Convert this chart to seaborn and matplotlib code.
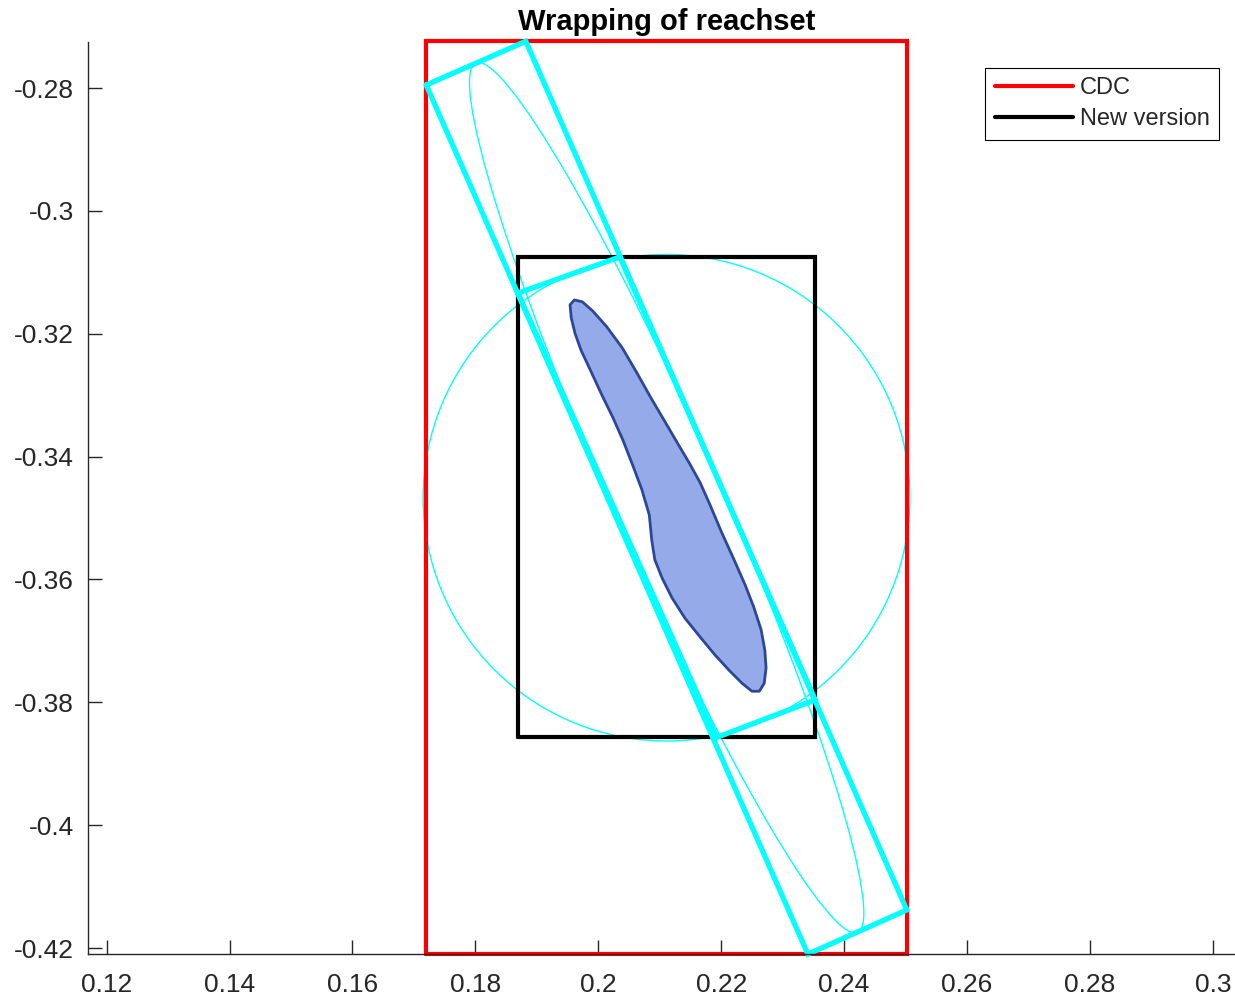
import numpy as np
import pandas as pd
import seaborn as sns
import matplotlib
matplotlib.use("Agg")
import matplotlib.pyplot as plt
from matplotlib.patches import Ellipse, Circle, Polygon

sns.set_style("white")
plt.rcParams['font.family'] = ['Liberation Sans', 'DejaVu Sans']

# axis-aligned boxes: xmin, xmax, ymin, ymax
cdc_box = [0.1720, 0.2502, -0.4210, -0.2724]
new_box = [0.1869, 0.2353, -0.3857, -0.3075]

# oriented box around the reach set, corners in order
big_rect_x = [0.1720, 0.1882, 0.2502, 0.2341]
big_rect_y = [-0.2795, -0.2724, -0.4138, -0.4210]
# smaller oriented box
small_rect_x = [0.1869, 0.2035, 0.2353, 0.2193]
small_rect_y = [-0.3134, -0.3075, -0.3796, -0.3857]

# bounding circle
circle_center = (0.2111, -0.3467)
circle_radius = 0.0396

# reach set outline
reach_x = [0.1954, 0.1956, 0.1962, 0.1972, 0.1987, 0.2006, 0.2024, 0.2040,
           0.2056, 0.2071, 0.2083, 0.2087, 0.2092, 0.2104, 0.2120, 0.2141,
           0.2166, 0.2190, 0.2214, 0.2234, 0.2250, 0.2262, 0.2270, 0.2273,
           0.2271, 0.2265, 0.2253, 0.2239, 0.2221, 0.2201, 0.2182, 0.2166,
           0.2149, 0.2130, 0.2109, 0.2086, 0.2063, 0.2039, 0.2014, 0.1991,
           0.1974, 0.1961]
reach_y = [-0.3153, -0.3174, -0.3199, -0.3227, -0.3259, -0.3300, -0.3337, -0.3373,
           -0.3414, -0.3454, -0.3495, -0.3536, -0.3568, -0.3598, -0.3630, -0.3663,
           -0.3694, -0.3723, -0.3749, -0.3769, -0.3782, -0.3782, -0.3769, -0.3744,
           -0.3715, -0.3682, -0.3645, -0.3609, -0.3568, -0.3524, -0.3479, -0.3443,
           -0.3412, -0.3380, -0.3344, -0.3305, -0.3264, -0.3223, -0.3189, -0.3163,
           -0.3148, -0.3145]

x_ticks = [0.12, 0.14, 0.16, 0.18, 0.20, 0.22, 0.24, 0.26, 0.28, 0.30]
x_labels = ['0.12', '0.14', '0.16', '0.18', '0.2', '0.22', '0.24', '0.26', '0.28', '0.3']
y_ticks = [-0.28, -0.30, -0.32, -0.34, -0.36, -0.38, -0.40, -0.42]
y_labels = ['-0.28', '-0.3', '-0.32', '-0.34', '-0.36', '-0.38', '-0.4', '-0.42']


def box_df(b):
    return pd.DataFrame({'x': [b[0], b[1], b[1], b[0], b[0]],
                         'y': [b[2], b[2], b[3], b[3], b[2]]})


def closed_df(xs, ys):
    return pd.DataFrame({'x': list(xs) + [xs[0]], 'y': list(ys) + [ys[0]]})


def inscribed_ellipse(xs, ys):
    p = np.column_stack([xs, ys])
    c = p.mean(axis=0)
    a = p[1] - p[0]
    b = p[3] - p[0]
    ang = np.degrees(np.arctan2(b[1], b[0]))
    return Ellipse(c, np.hypot(*b), np.hypot(*a), angle=ang, fill=False,
                   ec='cyan', lw=1, clip_on=False)


fig = plt.figure(figsize=(12.35, 9.97), dpi=100)
ax = fig.add_axes([88 / 1235, 43 / 997, (1245 - 88) / 1235, (954 - 42) / 997])

sns.lineplot(data=box_df(cdc_box), x='x', y='y', sort=False, estimator=None,
             color='red', lw=3, label='CDC', ax=ax)
sns.lineplot(data=box_df(new_box), x='x', y='y', sort=False, estimator=None,
             color='black', lw=3, label='New version', ax=ax)

ax.add_patch(Circle(circle_center, circle_radius, fill=False, ec='cyan', lw=1))
ax.add_patch(inscribed_ellipse(big_rect_x, big_rect_y))

for xs, ys in [(big_rect_x, big_rect_y), (small_rect_x, small_rect_y)]:
    sns.lineplot(data=closed_df(xs, ys), x='x', y='y', sort=False, estimator=None,
                 color='cyan', lw=3.8, legend=False, ax=ax)

for ln in ax.lines:
    ln.set_clip_on(False)
    ln.set_solid_joinstyle('miter')

ax.add_patch(Polygon(np.column_stack([reach_x, reach_y]), closed=True,
                     fc='#95aae8', ec='#2b4898', lw=2, joinstyle='round', zorder=5))

ax.set_xlim(0.11696, 0.30524)
ax.set_ylim(-0.42097, -0.27251)
ax.set_xticks(x_ticks)
ax.set_xticklabels(x_labels)
ax.set_yticks(y_ticks)
ax.set_yticklabels(y_labels)
ax.tick_params(bottom=True, left=True, direction='in', length=10, width=1,
               labelsize=19, colors='#262626')
ax.tick_params(axis='x', pad=14)
ax.tick_params(axis='y', pad=10)
ax.set_xlabel('')
ax.set_ylabel('')
for s in ['top', 'right']:
    ax.spines[s].set_visible(False)
for s in ['left', 'bottom']:
    ax.spines[s].set_color('#262626')
    ax.spines[s].set_linewidth(1)

ax.set_title('Wrapping of reachset', fontsize=21, fontweight='bold', pad=9,
             color='black')

leg = ax.legend(loc='upper right', bbox_to_anchor=(1219 / 1235, 929 / 997),
                bbox_transform=fig.transFigure, borderaxespad=0, fontsize=17,
                handlelength=3.3, fancybox=False, framealpha=1,
                edgecolor='black', borderpad=0.4, labelspacing=0.38,
                handletextpad=0.3)
leg.get_frame().set_linewidth(0.8)
for h in leg.get_lines():
    h.set_linewidth(3)

fig.savefig('out.png', dpi=100)
